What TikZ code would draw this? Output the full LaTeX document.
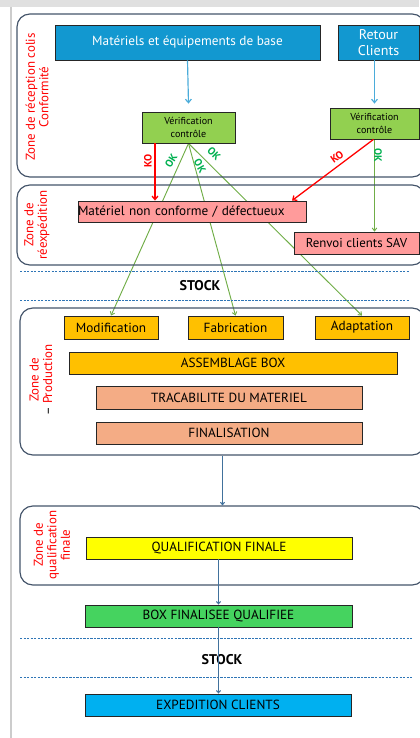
\documentclass[tikz,border=0pt]{standalone}
\usepackage{fontspec}
\setmainfont{PT Sans}
\usetikzlibrary{arrows.meta,backgrounds}

\definecolor{bleu}{HTML}{1298D0}
\definecolor{bleuclair}{HTML}{00B0F0}
\definecolor{vertverif}{HTML}{92D050}
\definecolor{vertbox}{HTML}{45D35F}
\definecolor{rose}{HTML}{FF9B9B}
\definecolor{orange}{HTML}{FFC000}
\definecolor{saumon}{HTML}{F4AC85}
\definecolor{jaune}{HTML}{FFFF00}
\definecolor{zonegris}{HTML}{44546A}
\definecolor{flechebleu}{HTML}{4BACDA}
\definecolor{flechefonce}{HTML}{41719C}
\definecolor{vertligne}{HTML}{70AD47}
\definecolor{vertok}{HTML}{00B050}
\definecolor{tirets}{HTML}{2E75B6}

\tikzset{
  boite/.style={draw=black!85, line width=0.7pt, inner sep=0pt, font=\fontsize{11.3}{13}\selectfont},
  zone/.style={draw=zonegris, line width=1pt, rounded corners=11pt, inner sep=0pt},
  zonetexte/.style={text=red, rotate=90, align=center, font=\fontsize{11}{11.5}\selectfont},
  fbleu/.style={draw=flechebleu, line width=1pt, -{Straight Barb[length=3pt,width=5pt]}},
  ffonce/.style={draw=flechefonce, line width=0.9pt, -{Straight Barb[length=2pt,width=3.5pt]}},
  fok/.style={draw=vertligne, line width=0.8pt, -{Straight Barb[length=2.5pt,width=4pt]}},
  fko/.style={draw=red, line width=1.1pt, -{Straight Barb[length=3pt,width=5pt]}},
  ok/.style={text=vertok, font=\bfseries\fontsize{9}{9}\selectfont, inner sep=0pt},
  ko/.style={text=red, font=\bfseries\fontsize{9}{9}\selectfont, inner sep=0pt},
  stock/.style={font=\bfseries\fontsize{12}{14}\selectfont},
  separation/.style={draw=tirets, dashed, dash pattern=on 2pt off 1pt, line width=0.5pt}
}

\begin{document}
\begin{tikzpicture}[x=0.03cm,y=-0.03cm]
\useasboundingbox (0,0) rectangle (419,738);
\fill[black!12] (0,0) rectangle (419,7);
\draw[black!20, line width=1.5pt] (11,7) -- (11,738);

% zones
\node[zone, minimum width=408*0.03cm, minimum height=163*0.03cm] (z1) at (221,95.5) {};
\node[zone, minimum width=408*0.03cm, minimum height=80*0.03cm] (z2) at (221,225) {};
\node[zone, minimum width=405*0.03cm, minimum height=147*0.03cm] (z3) at (222.5,381.5) {};
\node[zone, minimum width=405*0.03cm, minimum height=79*0.03cm] (z4) at (222.5,545.5) {};

\node[zonetexte] (t1) at (37,97) {Zone de réception colis\\Conformité};
\node[zonetexte] (t2) at (37,225) {Zone de\\réexpédition};
\node[zonetexte] (t3) at (41,380) {Zone de\\\textcolor{black}{–} Production};
\node[zonetexte] (t4) at (52,545) {Zone de\\qualification\\finale};

% reception
\node[boite, fill=bleu, text=white, minimum width=265*0.03cm, minimum height=35*0.03cm] (mat) at (187.5,42.5) {Matériels et équipements de base};
\node[boite, fill=bleu, text=white, align=center, font=\fontsize{12}{13}\selectfont, minimum width=81*0.03cm, minimum height=35*0.03cm] (ret) at (378.5,42.5) {Retour\\Clients};
\node[boite, fill=vertverif, align=center, font=\fontsize{8.6}{10.5}\selectfont, minimum width=93*0.03cm, minimum height=31*0.03cm] (ver1) at (188.5,127.5) {Vérification\\contrôle};
\node[boite, fill=vertverif, align=center, font=\fontsize{8.6}{10.5}\selectfont, minimum width=89*0.03cm, minimum height=31*0.03cm] (ver2) at (374.5,123.5) {Vérification\\contrôle};

% reexpedition
\node[boite, fill=rose, text width=228*0.03cm, align=left, minimum height=21*0.03cm] (nonconf) at (192,211.5) {Matériel non conforme / défectueux};
\node[boite, fill=rose, font=\fontsize{11}{13}\selectfont, minimum width=125*0.03cm, minimum height=22*0.03cm] (sav) at (356.5,243) {Renvoi clients SAV};

% production
\node[boite, fill=orange, minimum width=94*0.03cm, minimum height=23*0.03cm] (modif) at (111,327.5) {Modification};
\node[boite, fill=orange, minimum width=95*0.03cm, minimum height=23*0.03cm] (fabr) at (235.5,327.5) {Fabrication};
\node[boite, fill=orange, minimum width=94*0.03cm, minimum height=23*0.03cm] (adapt) at (362,327.5) {Adaptation};
\node[boite, fill=orange, minimum width=328*0.03cm, minimum height=22*0.03cm] (assemb) at (233,363) {ASSEMBLAGE BOX};
\node[boite, fill=saumon, minimum width=266*0.03cm, minimum height=23*0.03cm] (traca) at (229,397.5) {TRACABILITE DU MATERIEL};
\node[boite, fill=saumon, minimum width=266*0.03cm, minimum height=22*0.03cm] (final) at (229,433) {FINALISATION};

% qualification et expedition
\node[boite, fill=jaune, minimum width=266*0.03cm, minimum height=22*0.03cm] (qualif) at (219,548) {QUALIFICATION FINALE};
\node[boite, fill=vertbox, minimum width=267*0.03cm, minimum height=22*0.03cm] (boxq) at (218.5,616) {BOX FINALISEE QUALIFIEE};
\node[boite, fill=bleuclair, minimum width=266*0.03cm, minimum height=22*0.03cm] (exped) at (218,705) {EXPEDITION CLIENTS};

% stock
\draw[separation] (20,271) -- (410,271);
\draw[separation] (20,300) -- (410,300);
\node[stock] (stock1) at (200,286) {STOCK};
\draw[separation] (20,638) -- (412,638);
\draw[separation] (20,677) -- (412,677);
\node[stock] (stock2) at (222,660) {STOCK};

% fleches
\draw[fbleu] (mat.south) -- ([yshift=8*0.03cm]ver1.north);
\draw[fbleu] (ret.south -| ver2.north) -- ([yshift=4*0.03cm]ver2.north);
\draw[fko] (ver1.south -| 155,0) -- (nonconf.north -| 155,0);
\draw[fko] ([xshift=-1*0.03cm]ver2.south) -- ([xshift=100*0.03cm]nonconf.north);
\begin{scope}[on background layer]
\draw[fok] (ver1.south) -- (modif.north);
\draw[fok] (ver1.south) -- (fabr.north);
\draw[fok] (ver1.south) -- (adapt.north);
\draw[fok] (ver2.south) -- (ver2.south |- sav.north);
\end{scope}
\draw[ffonce] (z3.south) -- (z3.south |- z4.north);
\draw[ffonce] (qualif.south -| boxq.north) -- (boxq.north);
\draw[ffonce] (boxq.south) -- (boxq.south |- exped.north);

\node[ko, rotate=90] (ko1) at (148,161) {KO};
\node[ok, rotate=58] (ok1) at (171,161) {OK};
\node[ok, rotate=-60] (ok2) at (200,166) {OK};
\node[ok, rotate=-45] (ok3) at (214,154) {OK};
\node[ko, rotate=35] (ko2) at (337,157) {KO};
\node[ok, rotate=-90] (ok4) at (378,155) {OK};
\end{tikzpicture}
\end{document}
